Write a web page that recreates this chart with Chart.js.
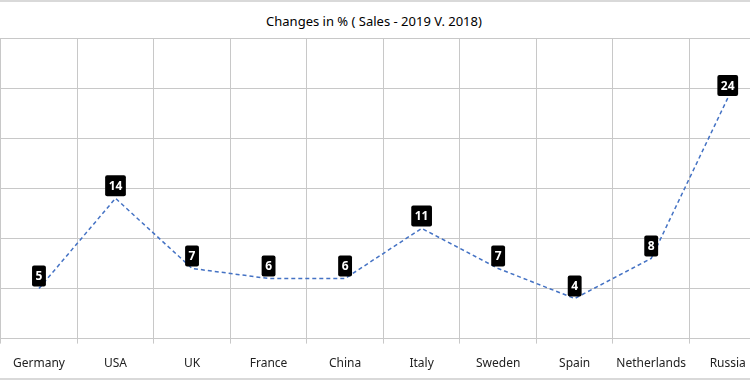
<!DOCTYPE html>
<html>
<head>
<meta charset="utf-8">
<script src="https://cdn.jsdelivr.net/npm/chart.js@4"></script>
<style>
  body { margin: 0; overflow: hidden; background: #fff; }
  #wrap { position: relative; width: 750px; height: 380px; overflow: hidden; box-sizing: border-box; border-top: 2px solid #d9d9d9; border-bottom: 2px solid #d9d9d9; }
  #title { position: absolute; top: 10px; left: 0; width: 748px; text-align: center; font: 13px 'Noto Sans', sans-serif; color: #000; }
  #box { position: absolute; left: 0; top: -2px; width: 766px; height: 380px; }
</style>
</head>
<body>
<div id="wrap">
  <div id="title">Changes in % ( Sales - 2019 V. 2018)</div>
  <div id="box"><canvas id="myChart"></canvas></div>
</div>
<script>
'use strict';

const countries = ['Germany', 'USA', 'UK', 'France', 'China', 'Italy', 'Sweden', 'Spain', 'Netherlands', 'Russia'];
const changes = [5, 14, 7, 6, 6, 11, 7, 4, 8, 24];
const yMin = 0;
const yMax = 30;
const yStep = 5;

// black boxes with the value above each point
const valueBoxes = {
  id: 'valueBoxes',
  afterDatasetsDraw(chart) {
    const ctx = chart.ctx;
    const meta = chart.getDatasetMeta(0);
    ctx.save();
    ctx.font = 'bold 12px "Noto Sans", sans-serif';
    ctx.textAlign = 'center';
    ctx.textBaseline = 'middle';
    meta.data.forEach(function (pt, i) {
      const txt = String(changes[i]);
      const w = ctx.measureText(txt).width + 7;
      const h = 21;
      const bx = pt.x - w / 2;
      const by = pt.y - 2 - h;
      ctx.fillStyle = '#000';
      ctx.beginPath();
      ctx.roundRect(bx, by, w, h, 2);
      ctx.fill();
      ctx.fillStyle = '#fff';
      ctx.fillText(txt, pt.x, by + h / 2 + 1);
    });
    ctx.restore();
  }
};

const data = {
  labels: countries,
  datasets: [{
    label: 'Changes in %',
    data: changes,
    borderColor: '#4472c4',
    borderWidth: 1.5,
    borderDash: [4, 3],
    pointRadius: 0,
    fill: false,
    tension: 0
  }]
};

const config = {
  type: 'line',
  data: data,
  options: {
    responsive: true,
    maintainAspectRatio: false,
    animation: false,
    layout: { padding: { top: 38, bottom: -4, left: 0, right: 0 } },
    plugins: {
      legend: { display: false },
      tooltip: { enabled: false }
    },
    scales: {
      x: {
        offset: true,
        grid: { offset: true, color: '#c8c8c8', tickLength: 5 },
        border: { display: false },
        ticks: { color: '#222', padding: 13, font: { family: 'Noto Sans', size: 12 }, maxRotation: 0 }
      },
      y: {
        min: yMin,
        max: yMax,
        ticks: { stepSize: yStep, display: false },
        grid: { color: '#c8c8c8', drawTicks: false },
        border: { display: false }
      }
    }
  },
  plugins: [valueBoxes]
};

let canvasChart = document.getElementById('myChart');
const myChart = new Chart(canvasChart, config);
</script>
</body>
</html>
